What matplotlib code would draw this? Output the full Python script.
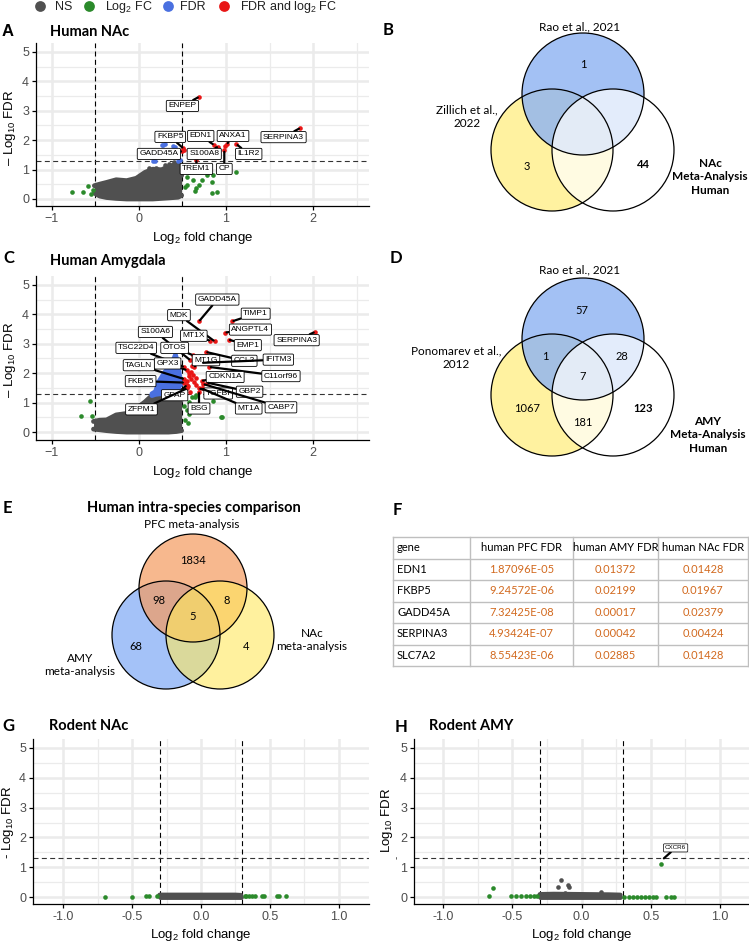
import numpy as np
import matplotlib.pyplot as plt
from matplotlib.patches import Circle

plt.rcParams['font.family'] = ['Liberation Sans', 'DejaVu Sans']
plt.rcParams['mathtext.fontset'] = 'custom'
plt.rcParams['mathtext.rm'] = 'Liberation Sans'
plt.rcParams['mathtext.it'] = 'Liberation Sans:italic'

# ---------------- data ----------------
# panel A - human NAc volcano
a_ns_x = [-0.51, -0.45, -0.37, -0.26, -0.14, -0.03, 0.07, 0.16, 0.26, 0.36, 0.45, 0.49]
a_ns_top = [0.45, 0.50, 0.56, 0.65, 0.62, 0.70, 0.90, 1.01, 0.99, 1.12, 1.18, 0.80]
a_ns_bot = [0.20, 0.10, 0.05, 0.02, 0.00, 0.00, 0.00, 0.00, 0.02, 0.04, 0.06, 0.12]
a_ns_px = [0.12, 0.20, 0.30, 0.40, 0.44, 0.47, 0.35]
a_ns_py = [1.04, 1.06, 1.15, 1.25, 1.05, 1.00, 1.20]
a_fc_x = [-0.77, -0.64, -0.58, -0.53, -0.55, 0.55, 0.62, 0.72, 0.84, 0.85, 0.66, 0.64, 0.84,
          0.90, 0.55, 0.57, 0.69, 1.11, 0.53, 0.78]
a_fc_y = [0.23, 0.25, 0.44, 0.31, 0.18, 0.76, 0.65, 0.65, 0.59, 0.82, 0.36, 0.27, 0.19,
          0.23, 0.49, 0.93, 0.49, 0.92, 0.40, 0.82]
a_fdr_x = [0.26, 0.28, 0.30, 0.39, 0.41, 0.16, 0.18, 0.45, 0.47]
a_fdr_y = [1.85, 1.85, 1.86, 1.80, 1.78, 1.30, 1.28, 1.28, 1.31]
a_genes = ['ENPEP', 'FKBP5', 'EDN1', 'ANXA1', 'SERPINA3', 'GADD45A', 'S100A8', 'IL1R2', 'TREM1', 'CP']
a_gene_x = [0.69, 0.51, 0.86, 1.01, 1.85, 0.50, 0.91, 1.12, 0.66, 0.98]
a_gene_y = [3.47, 1.72, 1.84, 1.86, 2.41, 1.62, 1.78, 1.86, 1.33, 1.65]
a_red_x = [0.99, 0.52]
a_red_y = [1.80, 1.68]

# panel C - human amygdala volcano
c_ns_x = [-0.52, -0.45, -0.37, -0.26, -0.14, -0.03, 0.07, 0.15, 0.24, 0.34, 0.43, 0.49]
c_ns_top = [0.36, 0.40, 0.41, 0.58, 0.63, 0.80, 1.02, 1.24, 1.30, 1.33, 1.36, 1.10]
c_ns_bot = [0.10, 0.08, 0.05, 0.02, 0.00, 0.00, 0.00, 0.00, 0.00, 0.00, 0.02, 0.05]
c_fdr_x = [0.15, 0.19, 0.24, 0.30, 0.35, 0.39, 0.42, 0.45, 0.48]
c_fdr_top = [1.30, 1.37, 1.76, 2.04, 2.20, 2.40, 2.62, 2.30, 1.60]
c_fdr_bot = [1.24, 1.28, 1.30, 1.31, 1.32, 1.33, 1.34, 1.35, 1.36]
c_fc_x = [-0.56, -0.66, -0.54, 0.53, 0.57, 0.61, 0.55, 0.53, 0.85, 0.94, 0.65, 0.52,
          0.64, 0.58, 0.95, 0.56, 0.60]
c_fc_y = [1.06, 0.55, 0.55, 1.20, 1.03, 1.20, 0.75, 0.41, 1.06, 0.50, 1.25, 0.90,
          1.20, 0.60, 0.52, 0.30, 0.90]
c_genes = ['GADD45A', 'MDK', 'TIMP1', 'ANGPTL4', 'MT1X', 'EMP1', 'SERPINA3', 'S100A6',
           'TSC22D4', 'OTOS', 'MT1G', 'CCL2', 'IFITM3', 'TAGLN', 'GPX3', 'C11orf96',
           'CDKN1A', 'FKBP5', 'GFAP', 'TGFBI', 'GBP2', 'ZFPM1', 'BSG', 'MT1A', 'CABP7']
c_gene_x = [0.69, 0.87, 1.07, 0.99, 0.82, 1.03, 2.02, 0.59, 0.52, 0.62, 0.63, 0.77, 0.72,
            0.52, 0.55, 0.81, 0.72, 0.52, 0.55, 0.69, 0.78, 0.55, 0.69, 0.72, 0.74]
c_gene_y = [3.76, 3.08, 3.76, 3.38, 3.10, 3.14, 3.40, 2.44, 2.21, 2.61, 2.21, 2.72, 2.35,
            1.80, 2.10, 2.21, 1.74, 1.68, 1.59, 1.48, 1.68, 1.48, 1.37, 1.48, 1.63]
c_red_x = [0.58, 0.62, 0.60, 0.65, 0.55, 0.57, 0.60, 0.63, 0.56, 0.52, 0.59, 0.66, 0.61]
c_red_y = [1.90, 1.95, 1.80, 1.85, 1.75, 2.00, 2.05, 1.70, 1.55, 1.45, 1.35, 1.60, 2.25]

# panel G - rodent NAc volcano
g_ns_x = [-0.30, -0.25, 0.00, 0.25, 0.29]
g_ns_top = [0.07, 0.07, 0.07, 0.07, 0.06]
g_fc_x = [-0.70, -0.50, -0.40, -0.38, -0.32, 0.32, 0.33, 0.35, 0.37, 0.39, 0.44, 0.46,
          0.55, 0.57, 0.62]
g_fc_y = [0.02, 0.02, 0.03, 0.03, 0.03, 0.04, 0.04, 0.04, 0.04, 0.04, 0.04, 0.04,
          0.04, 0.04, 0.04]

# panel H - rodent AMY volcano
h_ns_x = [-0.30, -0.20, 0.00, 0.20, 0.28]
h_ns_top = [0.09, 0.10, 0.09, 0.08, 0.07]
h_ns_px = [-0.15, -0.17, -0.10, -0.09, 0.14, -0.22, -0.12]
h_ns_py = [0.57, 0.33, 0.40, 0.33, 0.16, 0.12, 0.15]
h_fc_x = [-0.67, -0.64, -0.51, -0.47, -0.44, -0.40, -0.37, -0.34, -0.32, 0.31, 0.34, 0.37,
          0.40, 0.43, 0.46, 0.49, 0.52, 0.54, 0.61, 0.65, 0.67, 0.575]
h_fc_y = [0.05, 0.29, 0.05, 0.05, 0.05, 0.05, 0.05, 0.05, 0.05, 0.02, 0.02, 0.02,
          0.02, 0.02, 0.02, 0.02, 0.02, 0.02, 0.02, 0.02, 0.02, 1.10]

# venn counts
b_counts = ['1', '3', '44']
d_counts = ['57', '1', '28', '7', '1067', '181', '123']
e_counts = ['1834', '98', '8', '5', '68', '4']

# table F
f_header = ['gene', 'human PFC FDR', 'human AMY FDR', 'human NAc FDR']
f_genes = ['EDN1', 'FKBP5', 'GADD45A', 'SERPINA3', 'SLC7A2']
f_pfc = ['1.87096E-05', '9.24572E-06', '7.32425E-08', '4.93424E-07', '8.55423E-06']
f_amy = ['0.01372', '0.02199', '0.00017', '0.00042', '0.02885']
f_nac = ['0.01428', '0.01967', '0.02379', '0.00424', '0.01428']

human_xticks = [-1, 0, 1, 2]
human_xticklabels = ['\u22121', '0', '1', '2']
rodent_xticks = [-1.0, -0.5, 0.0, 0.5, 1.0]
rodent_xticklabels = ['-1.0', '-0.5', '0.0', '0.5', '1.0']

# ---------------- styling ----------------
NS_COL = '#505050'
FC_COL = '#2b8a2b'
FDR_COL = '#4a70e0'
BOTH_COL = '#e81616'
PT = 11
CAL = ['Lato', 'DejaVu Sans']

W, H = 749, 944
fig = plt.figure(figsize=(W / 100, H / 100), dpi=100)

ov = fig.add_axes([0, 0, 1, 1])
ov.set_xlim(0, W)
ov.set_ylim(H, 0)
ov.axis('off')


def px_axes(box):
    l, t, r, b = box
    return fig.add_axes([l / W, 1 - b / H, (r - l) / W, (b - t) / H])


def frame(ax, box, xlim, xticks, xticklabels, xminor, vcut, ylab, ylab_x, ylab_y, xlab_y):
    l, t, r, b = box
    ax.set_xlim(*xlim)
    ax.set_ylim(-0.24, 5.3)
    ax.set_xticks(xticks)
    ax.set_xticklabels(xticklabels)
    ax.set_xticks(xminor, minor=True)
    ax.set_yticks(range(6))
    ax.set_yticks(np.arange(0.5, 5.5, 1), minor=True)
    ax.grid(which='major', color='#EBEBEB', lw=1.8)
    ax.grid(which='minor', color='#EBEBEB', lw=0.9)
    ax.set_axisbelow(True)
    for s in ['top', 'right']:
        ax.spines[s].set_visible(False)
    for s in ['left', 'bottom']:
        ax.spines[s].set_linewidth(0.9)
    ax.tick_params(which='major', length=3, width=0.9, color='black',
                   labelcolor='#4D4D4D', labelsize=9, pad=2)
    ax.tick_params(which='minor', length=0)
    for v in vcut:
        ax.axvline(v, color='black', lw=0.8, ls=(0, (4.5, 3)), zorder=1.5)
    ax.axhline(1.3, color='#333333', lw=0.8, ls=(0, (4.5, 3)), zorder=1.5)
    ax.set_xlabel('Log$_2$ fold change', fontsize=9.5)
    ax.xaxis.label.set_va('center')
    ax.xaxis.set_label_coords(0.5, (b - xlab_y) / (b - t))
    ax.set_ylabel(ylab, fontsize=9.5)
    ax.yaxis.label.set_va('center')
    ax.yaxis.set_label_coords((ylab_x - l) / (r - l), (b - ylab_y) / (b - t))


def cloud(ax, x, lo, hi, col):
    ax.fill_between(x, lo, hi, color=col, lw=0, zorder=2)
    ax.plot(x, hi, color=col, lw=3.5, solid_capstyle='round', solid_joinstyle='round', zorder=2)
    ax.plot(x, lo, color=col, lw=3.5, solid_capstyle='round', solid_joinstyle='round', zorder=2)


def labels(ax, genes, gx, gy, pos, fs=6):
    for g, x, y in zip(genes, gx, gy):
        ax.scatter([x], [y], s=PT, color=BOTH_COL, lw=0, zorder=3)
        lx, ly = pos[g]
        ax.annotate(g, xy=(x, y), xytext=(lx, ly), fontsize=fs, ha='center', va='center',
                    zorder=5, annotation_clip=False,
                    bbox=dict(boxstyle='round,pad=0.25,rounding_size=0.15', fc='white',
                              ec='black', lw=0.6),
                    arrowprops=dict(arrowstyle='-', color='black', lw=1.6,
                                    shrinkA=0, shrinkB=1))


# ---------------- top legend ----------------
leg_items = [('NS', NS_COL, 40, 55), ('Log$_2$ FC', FC_COL, 89, 105),
             ('FDR', FDR_COL, 168, 180), ('FDR and log$_2$ FC', BOTH_COL, 224, 240)]
for txt, col, cx, tx in leg_items:
    ov.scatter([cx], [6], s=60, color=col, lw=0)
    ov.text(tx, 7, txt, fontsize=9, va='center', ha='left', color='#222222')

# panel letters and titles
for let, x, y, fam in [('A', 2, 32, 'Liberation Sans'), ('C', 3, 258, CAL), ('E', 3, 508, CAL),
                       ('G', 2, 726, CAL), ('B', 383, 30, CAL), ('D', 390, 258, CAL),
                       ('F', 393, 510, CAL), ('H', 395, 727, CAL)]:
    ov.text(x, y, let, fontsize=12, fontweight='bold', va='center', ha='left', family=fam)
for ttl, x, y in [('Human NAc', 50, 32), ('Human Amygdala', 50, 261),
                  ('Rodent NAc', 49, 726), ('Rodent AMY', 429, 726)]:
    ov.text(x, y, ttl, fontsize=10.5, fontweight='bold', va='center', ha='left', family=CAL)

# ---------------- panel A ----------------
boxA = (36, 43, 369, 206)
axA = px_axes(boxA)
frame(axA, boxA, (-1.18, 2.64), human_xticks, human_xticklabels, [-0.5, 0.5, 1.5, 2.5],
      [-0.5, 0.5], '\u2013 Log$_{10}$ FDR', 10, 128, 238)
cloud(axA, a_ns_x, a_ns_bot, a_ns_top, NS_COL)
axA.scatter(a_ns_px, a_ns_py, s=PT, color=NS_COL, lw=0, zorder=2)
axA.scatter(a_fc_x, a_fc_y, s=PT, color=FC_COL, lw=0, zorder=3)
axA.scatter(a_fdr_x, a_fdr_y, s=PT, color=FDR_COL, lw=0, zorder=3)
axA.scatter(a_red_x, a_red_y, s=PT, color=BOTH_COL, lw=0, zorder=3)
posA = {'ENPEP': (0.50, 3.16), 'FKBP5': (0.36, 2.11), 'EDN1': (0.71, 2.14),
        'ANXA1': (1.08, 2.14), 'SERPINA3': (1.66, 2.10), 'GADD45A': (0.23, 1.53),
        'S100A8': (0.75, 1.53), 'IL1R2': (1.26, 1.53), 'TREM1': (0.66, 1.02), 'CP': (0.98, 1.02)}
labels(axA, a_genes, a_gene_x, a_gene_y, posA)

# ---------------- panel C ----------------
boxC = (36, 276, 369, 440)
axC = px_axes(boxC)
frame(axC, boxC, (-1.18, 2.64), human_xticks, human_xticklabels, [-0.5, 0.5, 1.5, 2.5],
      [-0.5, 0.5], '\u2013 Log$_{10}$ FDR', 10, 360, 472)
axC.set_ylim(-0.27, 5.3)
cloud(axC, c_ns_x, c_ns_bot, c_ns_top, NS_COL)
cloud(axC, c_fdr_x, c_fdr_bot, c_fdr_top, FDR_COL)
axC.scatter(c_fc_x, c_fc_y, s=PT, color=FC_COL, lw=0, zorder=3)
axC.scatter(c_red_x, c_red_y, s=PT, color=BOTH_COL, lw=0, zorder=3)
posC = {'GADD45A': (0.90, 4.50), 'MDK': (0.46, 3.97), 'TIMP1': (1.34, 4.02),
        'ANGPTL4': (1.28, 3.48), 'MT1X': (0.63, 3.27), 'EMP1': (1.25, 2.95),
        'SERPINA3': (1.81, 3.12), 'S100A6': (0.19, 3.40), 'TSC22D4': (-0.03, 2.86),
        'OTOS': (0.41, 2.86), 'MT1G': (0.77, 2.44), 'CCL2': (1.21, 2.42), 'IFITM3': (1.60, 2.46),
        'TAGLN': (0.00, 2.27), 'GPX3': (0.33, 2.33), 'C11orf96': (1.63, 1.90),
        'CDKN1A': (0.99, 1.87), 'FKBP5': (0.02, 1.73), 'GFAP': (0.41, 1.25),
        'TGFBI': (0.91, 1.31), 'GBP2': (1.27, 1.37), 'ZFPM1': (0.03, 0.77),
        'BSG': (0.69, 0.80), 'MT1A': (1.26, 0.80), 'CABP7': (1.63, 0.84)}
labels(axC, c_genes, c_gene_x, c_gene_y, posC)

# ---------------- panel G ----------------
boxG = (33, 739, 369, 904)
axG = px_axes(boxG)
frame(axG, boxG, (-1.22, 1.22), rodent_xticks, rodent_xticklabels,
      [-0.75, -0.25, 0.25, 0.75], [-0.3, 0.3], '- Log$_{10}$ FDR', 8, 822, 935)
axG.set_ylim(-0.23, 5.3)
cloud(axG, g_ns_x, [0] * len(g_ns_x), g_ns_top, NS_COL)
axG.scatter(g_fc_x, g_fc_y, s=PT, color=FC_COL, lw=0, zorder=3)

# ---------------- panel H ----------------
boxH = (414, 739, 749, 904)
axH = px_axes(boxH)
frame(axH, boxH, (-1.21, 1.21), rodent_xticks, rodent_xticklabels,
      [-0.75, -0.25, 0.25, 0.75], [-0.3, 0.3], 'Log$_{10}$ FDR', 387, 820, 935)
axH.set_ylim(-0.23, 5.3)
cloud(axH, h_ns_x, [0] * len(h_ns_x), h_ns_top, NS_COL)
axH.scatter(h_ns_px, h_ns_py, s=PT, color=NS_COL, lw=0, zorder=2)
axH.scatter(h_fc_x, h_fc_y, s=PT, color=FC_COL, lw=0, zorder=3)
axH.annotate('CXCR6', xy=(0.595, 1.30), xytext=(0.68, 1.65), fontsize=4.5, ha='center',
             va='center', zorder=5,
             bbox=dict(boxstyle='round,pad=0.25,rounding_size=0.15', fc='white', ec='black', lw=0.5),
             arrowprops=dict(arrowstyle='-', color='black', lw=1.6, shrinkA=0, shrinkB=0))
ov.text(397, 857, '-', fontsize=7, rotation=90, ha='center', va='center', color='#333333')


# ---------------- venn B / D ----------------
def venn3(cx_list, cy_list, r, fills, alphas):
    for (cx, cy), fc, a in zip(zip(cx_list, cy_list), fills, alphas):
        ov.add_patch(Circle((cx, cy), r, fc=fc, ec='none', alpha=a))
    for cx, cy in zip(cx_list, cy_list):
        ov.add_patch(Circle((cx, cy), r, fc='none', ec='black', lw=0.9))


VT = 8.5
VN = 8

venn3([552, 583, 613], [150, 94, 150], 61, ['#FFF2A0', '#91B5F2', 'white'], [1, 0.83, 0.70])
ov.text(580, 27, 'Rao et al., 2021', fontsize=VT, ha='center', va='center', family=CAL)
ov.text(467, 117, 'Zillich et al.,\n2022', fontsize=VT, ha='center', va='center',
        family=CAL, linespacing=1.3)
ov.text(710, 177, 'NAc\nMeta-Analysis\nHuman', fontsize=VT, fontweight='bold', ha='center',
        va='center', family=CAL, linespacing=1.3)
for t, x, y, w in zip(b_counts, [583, 527, 643], [65, 166, 164], ['normal', 'normal', 'bold']):
    ov.text(x, y, t, fontsize=VN, ha='center', va='center', family=CAL, fontweight=w)

venn3([552, 583, 613], [395, 339, 395], 61, ['#FFF2A0', '#91B5F2', 'white'], [1, 0.83, 0.70])
ov.text(580, 270, 'Rao et al., 2021', fontsize=VT, ha='center', va='center', family=CAL)
ov.text(456, 358, 'Ponomarev et al.,\n2012', fontsize=VT, ha='center', va='center',
        family=CAL, linespacing=1.3)
ov.text(708, 435, 'AMY\nMeta-Analysis\nHuman', fontsize=VT, fontweight='bold', ha='center',
        va='center', family=CAL, linespacing=1.3)
for t, x, y, w in zip(d_counts, [582, 545, 622, 583, 527, 583, 643], [311, 356, 356, 377, 408, 422, 408],
                      ['normal'] * 6 + ['bold']):
    ov.text(x, y, t, fontsize=VN, ha='center', va='center', family=CAL, fontweight=w)

# ---------------- venn E ----------------
ov.add_patch(Circle((166, 635), 54, fc='#A4C2F8', ec='none'))
ov.add_patch(Circle((193, 588), 54, fc='#F49B5F', ec='none', alpha=0.7))
ov.add_patch(Circle((220, 635), 54, fc='#FFE95D', ec='none', alpha=0.6))
for cx, cy in [(166, 635), (193, 588), (220, 635)]:
    ov.add_patch(Circle((cx, cy), 54, fc='none', ec='black', lw=0.9))
ov.text(194, 508, 'Human intra-species comparison', fontsize=10.5, fontweight='bold',
        ha='center', va='center', family=CAL)
ov.text(192, 525, 'PFC meta-analysis', fontsize=VT, ha='center', va='center', family=CAL)
ov.text(312, 640, 'NAc\nmeta-analysis', fontsize=VT, ha='center', va='center', family=CAL,
        linespacing=1.25)
ov.text(80, 665, 'AMY\nmeta-analysis', fontsize=VT, ha='center', va='center', family=CAL,
        linespacing=1.25)
for t, x, y in zip(e_counts, [193, 159, 227, 193, 136, 246], [560, 601, 601, 617, 647, 647]):
    ov.text(x, y, t, fontsize=VN, ha='center', va='center', family=CAL)

# ---------------- table F ----------------
col_x = [393, 470, 573, 658, 748]
row_h = 21.5
top = 537
nrows = len(f_genes) + 1
for i in range(nrows + 1):
    ov.plot([col_x[0], col_x[-1]], [top + i * row_h] * 2, color='#BFBFBF', lw=1)
for x in col_x:
    ov.plot([x, x], [top, top + nrows * row_h], color='#BFBFBF', lw=1)
rows = [f_header] + [list(r) for r in zip(f_genes, f_pfc, f_amy, f_nac)]
for i, row in enumerate(rows):
    yc = top + (i + 0.5) * row_h
    for j, val in enumerate(row):
        if j == 0:
            ov.text(col_x[0] + 4, yc, val, fontsize=8, ha='left', va='center', family=CAL)
        else:
            col = 'black' if i == 0 else '#D2691E'
            ov.text((col_x[j] + col_x[j + 1]) / 2, yc, val, fontsize=8, ha='center',
                    va='center', family=CAL, color=col)

plt.savefig('out.png', dpi=100)
